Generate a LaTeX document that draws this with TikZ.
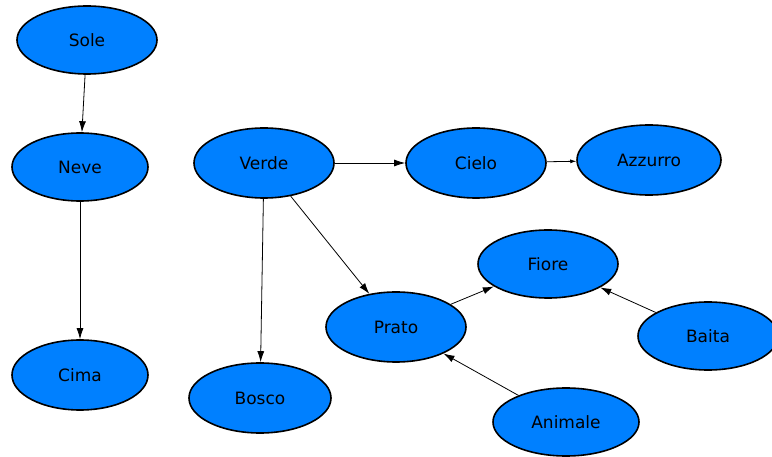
\documentclass[tikz,border=0pt]{standalone}
\usepackage{fontspec}
\setmainfont{DejaVu Sans}
\usetikzlibrary{arrows.meta,shapes.geometric}
\definecolor{nodeblue}{HTML}{0080FF}
\tikzset{
  concept/.style={ellipse, draw=black, line width=1.6pt, fill=nodeblue, inner sep=0pt,
    font=\fontsize{17}{19}\selectfont},
  link/.style={draw=black, line width=0.8pt, -{Latex[length=11pt,width=7pt]}}
}
\begin{document}
\begin{tikzpicture}[x=1pt,y=-1pt]
\useasboundingbox (0,0) rectangle (772,457);
\begin{scope}
\clip (0,0) rectangle (772,457);
\node[concept, minimum width=140pt, minimum height=68pt] (sole) at (87,40) {Sole};
\node[concept, minimum width=136pt, minimum height=68pt] (neve) at (80,167) {Neve};
\node[concept, minimum width=136pt, minimum height=70pt] (cima) at (80,375) {Cima};
\node[concept, minimum width=140pt, minimum height=70pt] (verde) at (264,163) {Verde};
\node[concept, minimum width=142pt, minimum height=70pt] (bosco) at (260,398) {Bosco};
\node[concept, minimum width=140pt, minimum height=70pt] (cielo) at (476,163) {Cielo};
\node[concept, minimum width=144pt, minimum height=70pt] (azzurro) at (649,160) {Azzurro};
\node[concept, minimum width=140pt, minimum height=68pt] (fiore) at (548,264) {Fiore};
\node[concept, minimum width=140pt, minimum height=70pt] (prato) at (396,327) {Prato};
\node[concept, minimum width=140pt, minimum height=68pt] (baita) at (708,336) {Baita};
\node[concept, minimum width=146pt, minimum height=68pt] (animale) at (566,422) {Animale};
\end{scope}
\draw[link] (sole) -- (neve);
\draw[link] (neve) -- (cima);
\draw[link] (verde) -- (bosco);
\draw[link] (verde) -- (prato);
\draw[link] (verde) -- (cielo);
\draw[link, -{Latex[length=6pt,width=4pt]}] (cielo) -- (azzurro);
\draw[link] (prato) -- (fiore);
\draw[link] (baita) -- (fiore);
\draw[link] (animale) -- (prato);
\end{tikzpicture}
\end{document}
